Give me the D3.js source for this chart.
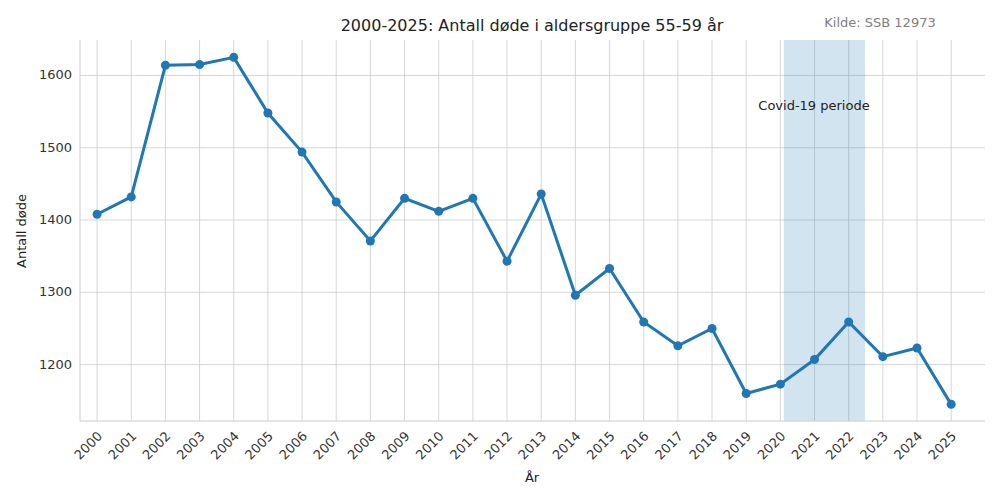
<!DOCTYPE html>
<html><head><meta charset="utf-8">
<script src="https://cdn.jsdelivr.net/npm/d3@7"></script>
<style>body{margin:0;background:#fff}text{font-family:"DejaVu Sans",sans-serif}</style>
</head><body><svg id="c" width="1000" height="500"></svg>
<script>
const years=[2000,2001,2002,2003,2004,2005,2006,2007,2008,2009,2010,2011,2012,2013,2014,2015,2016,2017,2018,2019,2020,2021,2022,2023,2024,2025];
const deaths=[1408,1432,1614,1615,1625,1548,1494,1425,1371,1430,1412,1430,1343,1436,1296,1333,1259,1226,1250,1160,1173,1207,1259,1211,1223,1145];
const yTicks=[1200,1300,1400,1500,1600];
const covidSpan=[2020.1,2022.48];
const svg=d3.select("#c");
const L=80,R=985,T=40,B=421;
const x=d3.scaleLinear().domain([1999.5,2025.99]).range([L,R]);
const y=d3.scaleLinear().domain([1122,1649]).range([B,T]);
const g=svg.append("g");
g.selectAll(".gx").data(years).enter().append("line").attr("x1",d=>x(d)).attr("x2",d=>x(d)).attr("y1",T).attr("y2",B).attr("stroke","#ccc").attr("stroke-width",0.8);
g.selectAll(".gy").data(yTicks).enter().append("line").attr("x1",L).attr("x2",R).attr("y1",d=>y(d)).attr("y2",d=>y(d)).attr("stroke","#ccc").attr("stroke-width",0.8);
g.append("rect").attr("x",x(covidSpan[0])).attr("width",x(covidSpan[1])-x(covidSpan[0])).attr("y",T).attr("height",B-T).attr("fill","#1f77b4").attr("opacity",0.2);
g.append("line").attr("x1",L).attr("x2",L).attr("y1",T).attr("y2",B).attr("stroke","#ccc");
g.append("line").attr("x1",L).attr("x2",R).attr("y1",B).attr("y2",B).attr("stroke","#ccc");
g.selectAll(".yl").data(yTicks).enter().append("text").attr("x",L-8).attr("y",d=>y(d)+4).attr("text-anchor","end").attr("font-size",13).attr("fill","#333").text(d=>d);
g.selectAll(".xl").data(years).enter().append("text").attr("transform",d=>`translate(${x(d)+6},${B+16}) rotate(-45)`).attr("text-anchor","end").attr("font-size",13).attr("fill","#333").text(d=>d);
const line=d3.line().x((d,i)=>x(years[i])).y(d=>y(d));
g.append("path").datum(deaths).attr("d",line).attr("fill","none").attr("stroke","#1f77b4").attr("stroke-width",3);
g.selectAll(".pt").data(deaths).enter().append("circle").attr("cx",(d,i)=>x(years[i])).attr("cy",d=>y(d)).attr("r",4.5).attr("fill","#1f77b4");
svg.append("text").attr("x",532).attr("y",31).attr("text-anchor","middle").attr("font-size",16).attr("fill","#222").text("2000-2025: Antall døde i aldersgruppe 55-59 år");
svg.append("text").attr("x",880).attr("y",27).attr("text-anchor","middle").attr("font-size",13).attr("fill","#808080").text("Kilde: SSB 12973");
svg.append("text").attr("x",814).attr("y",110).attr("text-anchor","middle").attr("font-size",13).attr("fill","#222").text("Covid-19 periode");
svg.append("text").attr("x",532).attr("y",482).attr("text-anchor","middle").attr("font-size",13).attr("fill","#222").text("År");
svg.append("text").attr("transform","translate(26,231) rotate(-90)").attr("text-anchor","middle").attr("font-size",13).attr("fill","#222").text("Antall døde");
</script></body></html>
